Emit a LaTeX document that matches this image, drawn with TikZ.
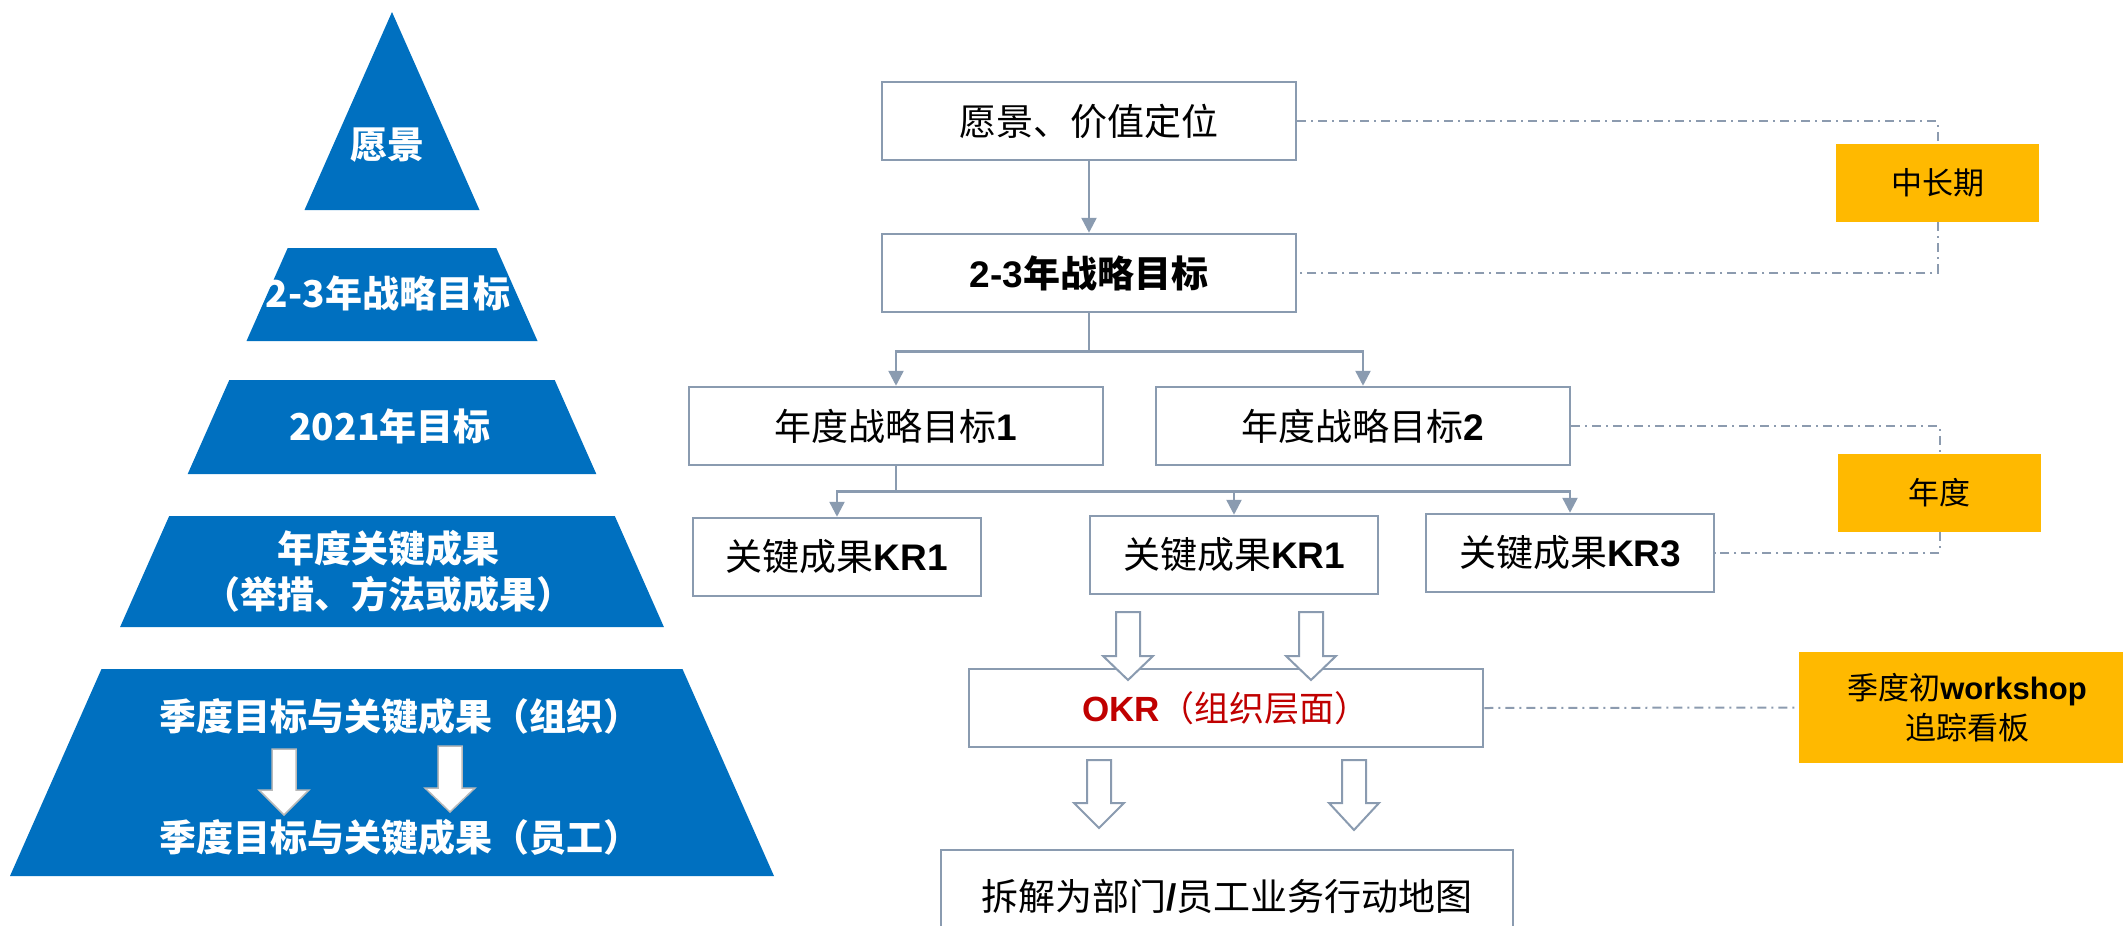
\documentclass[tikz,border=0pt]{standalone}
\usepackage{fontspec}
\setmainfont{Noto Sans CJK SC}
\newfontfamily\lat{Liberation Sans}
\usetikzlibrary{arrows.meta}

\definecolor{pyrblue}{RGB}{0,112,192}
\definecolor{gold}{RGB}{255,185,0}
\definecolor{edgegrey}{RGB}{138,155,176}
\definecolor{dashgrey}{RGB}{140,155,175}
\definecolor{okrred}{RGB}{192,0,0}

\tikzset{
  box/.style={draw=edgegrey, line width=2.5pt, fill=white, inner sep=0pt,
    minimum height=78pt, font=\fontsize{37}{42}\selectfont},
  tag/.style={fill=gold, inner sep=0pt, minimum height=78pt, minimum width=203pt,
    align=center, font=\fontsize{31}{40}\selectfont},
  pyrtext/.style={text=white, align=center, font=\fontsize{37}{46}\selectfont\bfseries},
  conn/.style={edgegrey, line width=2.5pt},
  arr/.style={conn, -{Triangle[length=15pt,width=15pt]}},
  guide/.style={dashgrey, line width=2pt, dash pattern=on 9pt off 5pt on 2pt off 5pt},
  hollow/.style={draw=edgegrey, fill=white, line width=2pt},
  whitearr/.style={draw=gray!55, fill=white, line width=1.5pt}
}

% block arrow pointing down: style, x, top, head base, tip
\newcommand{\blockdown}[5]{%
  \draw[#1] ({#2-12},#3) -- ({#2+12},#3) -- ({#2+12},#4) -- ({#2+25},#4)
    -- (#2,#5) -- ({#2-25},#4) -- ({#2-12},#4) -- cycle;}

\begin{document}
\begin{tikzpicture}[x=1pt, y=-1pt]
        \useasboundingbox (0,0) rectangle (2123,926);

        % pyramid
        \fill[pyrblue] (392,12) -- (479.5,210) -- (304.5,210) -- cycle;
        \fill[pyrblue] (287.7,248) -- (496.3,248) -- (537.5,341) -- (246.5,341) -- cycle;
        \fill[pyrblue] (229.3,380) -- (554.7,380) -- (596.3,474) -- (187.7,474) -- cycle;
        \fill[pyrblue] (169.2,516) -- (614.8,516) -- (663.9,627) -- (120.1,627) -- cycle;
        \fill[pyrblue] (101.5,669) -- (682.5,669) -- (774,876) -- (10,876) -- cycle;

        \node[pyrtext] (vision) at (387,145) {愿景};
        \node[pyrtext] (strategy) at (388,293) {2-3年战略目标};
        \node[pyrtext] (goal) at (390,426) {2021年目标};
        \node[pyrtext] (annualkr) at (388,571) {年度关键成果\\（举措、方法或成果）};
        \node[pyrtext] (qorg) at (400,716) {季度目标与关键成果（组织）};
        \node[pyrtext] (qstaff) at (400,837) {季度目标与关键成果（员工）};

        \blockdown{whitearr}{284}{749}{790}{815}
        \blockdown{whitearr}{450}{746}{788}{812}

        % tree
        \node[box, minimum width=414pt] (vis) at (1089,121) {愿景、价值定位};
        \node[box, minimum width=414pt] (mid) at (1089,273) {\bfseries{\lat 2-3}年战略目标};
        \node[box, minimum width=414pt] (yr1) at (896,426) {年度战略目标{\lat\bfseries 1}};
        \node[box, minimum width=414pt] (yr2) at (1363,426) {年度战略目标{\lat\bfseries 2}};
        \node[box, minimum width=288pt] (kra) at (837,557) {关键成果{\lat\bfseries KR1}};
        \node[box, minimum width=288pt] (krb) at (1234,555) {关键成果{\lat\bfseries KR1}};
        \node[box, minimum width=288pt] (krc) at (1570,553) {关键成果{\lat\bfseries KR3}};
        \node[box, minimum width=514pt, text=okrred, font=\fontsize{35}{40}\selectfont] (okr) at (1226,708) {{\lat\bfseries OKR}（组织层面）};
        \node[box, minimum width=572pt, minimum height=92pt] (plan) at (1227,896) {拆解为部门{\lat\bfseries /}员工业务行动地图};

        \draw[arr] (vis) -- (mid);
        \draw[conn] (mid.south) -- ++(0,38) coordinate (fork1);
        \draw[arr] (fork1) -| (yr1.north);
        \draw[arr] (fork1) -| (yr2.north);
        \draw[conn] (yr1.south) -- ++(0,25) coordinate (fork2);
        \draw[arr] (fork2) -| (kra.north);
        \draw[arr] (fork2) -| (krb.north);
        \draw[arr] (fork2) -| (krc.north);

        \blockdown{hollow}{1128}{612}{656}{680}
        \blockdown{hollow}{1311}{612}{656}{680}
        \blockdown{hollow}{1099}{760}{803}{828}
        \blockdown{hollow}{1354}{760}{803}{830}

        % time tags
        \node[tag] (longterm) at (1937.5,183) {中长期};
        \node[tag] (yearly) at (1939.5,493) {年度};
        \node[tag, minimum width=336pt, minimum height=111pt] (quarter) at (1967,707.5) {季度初{\lat\bfseries workshop}\\追踪看板};

        \draw[guide] (vis.east) -| (longterm.north);
        \draw[guide] (longterm.south) |- (mid.east);
        \draw[guide] (yr2.east) -| (yearly.north);
        \draw[guide] (yearly.south) |- (krc.east);
        \draw[guide] (okr.east) -- (quarter.west);
\end{tikzpicture}
\end{document}
